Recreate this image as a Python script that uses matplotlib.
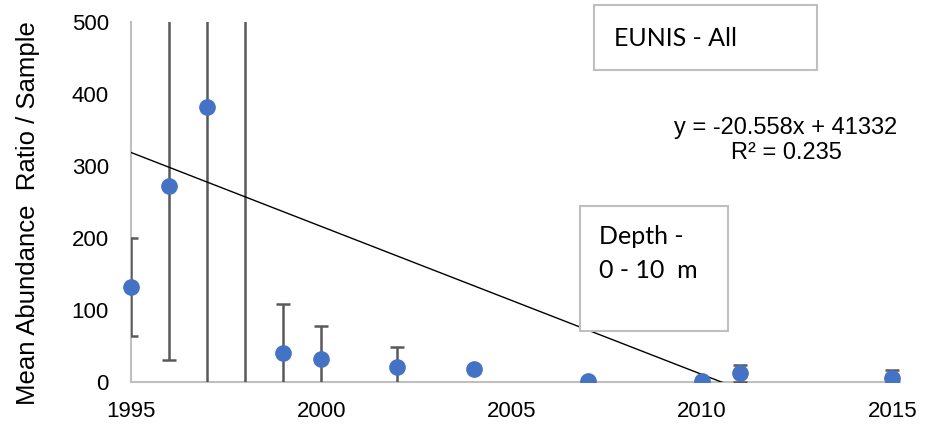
import matplotlib.pyplot as plt
import numpy as np

plt.rcParams["font.family"] = ["Liberation Sans", "DejaVu Sans"]

years = [1995, 1996, 1997, 1998, 1999, 2000, 2002, 2004, 2007, 2010, 2011, 2015]
means = [132, 272, 382, 943, 40, 32, 21, 18, 1, 2, 12, 6]
errors = [68, 242, 400, 1000, 68, 46, 28, 0, 0, 0, 12, 11]
slope = -20.558
intercept = 41332

fig = plt.figure(figsize=(9.25, 4.28), dpi=100)
ax = fig.add_axes([0.1416, 0.1075, 0.8314, 0.8411])

# clip box a bit wider than the axes so the 1995 point is not cut in half
clip = plt.Rectangle((-0.05, 0), 1.1, 1, transform=ax.transAxes, visible=False)
ax.add_patch(clip)

ax.errorbar(years, means, yerr=errors, fmt="none", ecolor="#595959",
            elinewidth=1.8, capsize=5, capthick=1.8, zorder=3)
pts, = ax.plot(years, means, "o", color="#4472C4", markersize=11, zorder=4)
pts.set_clip_path(clip)

xs = np.array([1995, 2015])
ax.plot(xs, slope * xs + intercept, color="black", linewidth=1, zorder=3)

ax.set_xlim(1995, 2015.2)
ax.set_ylim(0, 500)
ax.set_xticks(range(1995, 2016, 5))
ax.set_yticks(range(0, 501, 100))
ax.tick_params(length=0, labelsize=16)
ax.tick_params(axis="y", pad=16)
ax.tick_params(axis="x", pad=14)

for s in ["top", "right"]:
    ax.spines[s].set_visible(False)
for s in ["left", "bottom"]:
    ax.spines[s].set_color("#BFBFBF")
    ax.spines[s].set_linewidth(1.5)

fig.text(28 / 925, 1 - 213 / 428, "Mean Abundance  Ratio / Sample", rotation=90,
         va="center", ha="center", fontsize=18.5)

fig.patches.append(plt.Rectangle((594 / 925, 1 - 70 / 428), 223 / 925, 65 / 428,
                                 transform=fig.transFigure, facecolor="white",
                                 edgecolor="#BFBFBF", linewidth=1.5, zorder=5))
fig.text(614 / 925, 1 - 38 / 428, "EUNIS - All", fontsize=18, family="Lato",
         va="center", ha="left", zorder=6)

fig.patches.append(plt.Rectangle((580 / 925, 1 - 331 / 428), 148 / 925, 125 / 428,
                                 transform=fig.transFigure, facecolor="white",
                                 edgecolor="#BFBFBF", linewidth=1.5, zorder=5))
fig.text(599 / 925, 1 - 237 / 428, "Depth -", fontsize=18, family="Lato",
         va="center", ha="left", zorder=6)
fig.text(599 / 925, 1 - 270 / 428, "0 - 10  m", fontsize=18, family="Lato",
         va="center", ha="left", zorder=6)

fig.text(786 / 925, 1 - 128 / 428, "y = -20.558x + 41332", fontsize=17,
         ha="center", va="center")
fig.text(786 / 925, 1 - 153 / 428, "R² = 0.235", fontsize=17,
         ha="center", va="center")

fig.savefig("out.png", dpi=100)
